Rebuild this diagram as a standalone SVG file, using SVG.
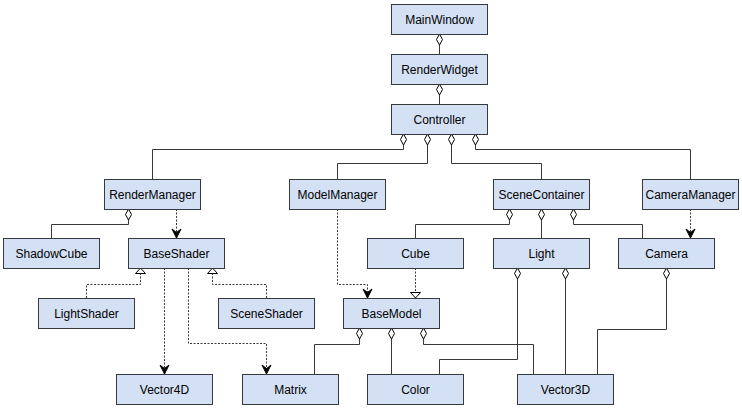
<svg xmlns="http://www.w3.org/2000/svg" width="742" height="408" viewBox="0 0 742 408">
<style>
.box rect{fill:#D4E1F5;stroke:#36393D;stroke-width:1}
.box text{font-family:"Liberation Sans",Arial,sans-serif;font-size:12px;fill:#000;text-anchor:middle}
.c path{fill:none;stroke:#36393D;stroke-width:1}
.c .agg{marker-start:url(#diamond)}
.c .dep{stroke-dasharray:2 1.5;marker-end:url(#open)}
.c .inh{stroke-dasharray:2 1.5;marker-end:url(#tri)}
</style>
<defs>
<marker id="diamond" markerUnits="userSpaceOnUse" markerWidth="13" markerHeight="9" refX="0.5" refY="4" orient="auto" overflow="visible">
<path d="M0.5,4 L6,1 L11.5,4 L6,7 Z" fill="#fff" stroke="#000" stroke-width="1" stroke-dasharray="none"/>
</marker>
<marker id="open" markerUnits="userSpaceOnUse" markerWidth="10" markerHeight="10" refX="9" refY="4.5" orient="auto" overflow="visible">
<path d="M0,0 L9,4.5 L0,9 L3.5,4.5 Z" fill="#000" stroke="#000" stroke-width="1" stroke-dasharray="none" stroke-linejoin="miter"/>
</marker>
<marker id="tri" markerUnits="userSpaceOnUse" markerWidth="10" markerHeight="12" refX="5.5" refY="5" orient="auto" overflow="visible">
<path d="M0,0 L5.5,5 L0,10 Z" fill="#fff" stroke="#000" stroke-width="1" stroke-dasharray="none"/>
</marker>
</defs>
<g id="connectors" class="c">
<path class="agg" d="M439.5,34 V54"/>
<path class="agg" d="M439.5,84 V104"/>
<path class="agg" d="M403.5,134 V149.5 H152.5 V179"/>
<path class="agg" d="M427.5,134 V163.5 H337.5 V179"/>
<path class="agg" d="M451.5,134 V163.5 H541.5 V179"/>
<path class="agg" d="M475.5,134 V149.5 H690.5 V179"/>
<path class="agg" d="M128.5,209 V224.5 H51.5 V238"/>
<path class="agg" d="M509.5,209 V224.5 H415.5 V238"/>
<path class="agg" d="M541.5,209 V238"/>
<path class="agg" d="M573.5,209 V224.5 H642.5 V238"/>
<path class="agg" d="M359.5,328 V344.5 H314.5 V374"/>
<path class="agg" d="M391.5,328 V374"/>
<path class="agg" d="M423.5,328 V344.5 H533.5 V374"/>
<path class="agg" d="M517.5,268 V359.5 H439.5 V374"/>
<path class="agg" d="M565.5,268 V374"/>
<path class="agg" d="M666.5,268 V329.5 H597.5 V374"/>
<path class="dep" d="M176.5,209 V238"/>
<path class="dep" d="M690.5,209 V238"/>
<path class="dep" d="M337.5,209 V284.5 H367.5 V298"/>
<path class="dep" d="M164.5,268 V374"/>
<path class="dep" d="M188.5,268 V343.5 H266.5 V374"/>
<path class="inh" d="M86.5,298 V284.5 H140.5 V268"/>
<path class="inh" d="M266.5,298 V284.5 H212.5 V268"/>
<path class="inh" d="M415.5,268 V298"/>
</g>
<g id="MainWindow" class="box"><rect x="391.5" y="4.5" width="96" height="30"/><text x="439.5" y="24">MainWindow</text></g>
<g id="RenderWidget" class="box"><rect x="391.5" y="54.5" width="96" height="30"/><text x="439.5" y="74">RenderWidget</text></g>
<g id="Controller" class="box"><rect x="391.5" y="104.5" width="96" height="30"/><text x="439.5" y="124">Controller</text></g>
<g id="RenderManager" class="box"><rect x="104.5" y="179.5" width="96" height="30"/><text x="152.5" y="199">RenderManager</text></g>
<g id="ModelManager" class="box"><rect x="289.5" y="179.5" width="96" height="30"/><text x="337.5" y="199">ModelManager</text></g>
<g id="SceneContainer" class="box"><rect x="493.5" y="179.5" width="96" height="30"/><text x="541.5" y="199">SceneContainer</text></g>
<g id="CameraManager" class="box"><rect x="642.5" y="179.5" width="96" height="30"/><text x="690.5" y="199">CameraManager</text></g>
<g id="ShadowCube" class="box"><rect x="3.5" y="238.5" width="96" height="30"/><text x="51.5" y="258">ShadowCube</text></g>
<g id="BaseShader" class="box"><rect x="128.5" y="238.5" width="96" height="30"/><text x="176.5" y="258">BaseShader</text></g>
<g id="Cube" class="box"><rect x="367.5" y="238.5" width="96" height="30"/><text x="415.5" y="258">Cube</text></g>
<g id="Light" class="box"><rect x="493.5" y="238.5" width="96" height="30"/><text x="541.5" y="258">Light</text></g>
<g id="Camera" class="box"><rect x="618.5" y="238.5" width="96" height="30"/><text x="666.5" y="258">Camera</text></g>
<g id="LightShader" class="box"><rect x="38.5" y="298.5" width="96" height="30"/><text x="86.5" y="318">LightShader</text></g>
<g id="SceneShader" class="box"><rect x="218.5" y="298.5" width="96" height="30"/><text x="266.5" y="318">SceneShader</text></g>
<g id="BaseModel" class="box"><rect x="343.5" y="298.5" width="96" height="30"/><text x="391.5" y="318">BaseModel</text></g>
<g id="Vector4D" class="box"><rect x="116.5" y="374.5" width="96" height="30"/><text x="164.5" y="394">Vector4D</text></g>
<g id="Matrix" class="box"><rect x="242.5" y="374.5" width="96" height="30"/><text x="290.5" y="394">Matrix</text></g>
<g id="Color" class="box"><rect x="367.5" y="374.5" width="96" height="30"/><text x="415.5" y="394">Color</text></g>
<g id="Vector3D" class="box"><rect x="517.5" y="374.5" width="96" height="30"/><text x="565.5" y="394">Vector3D</text></g>
</svg>
